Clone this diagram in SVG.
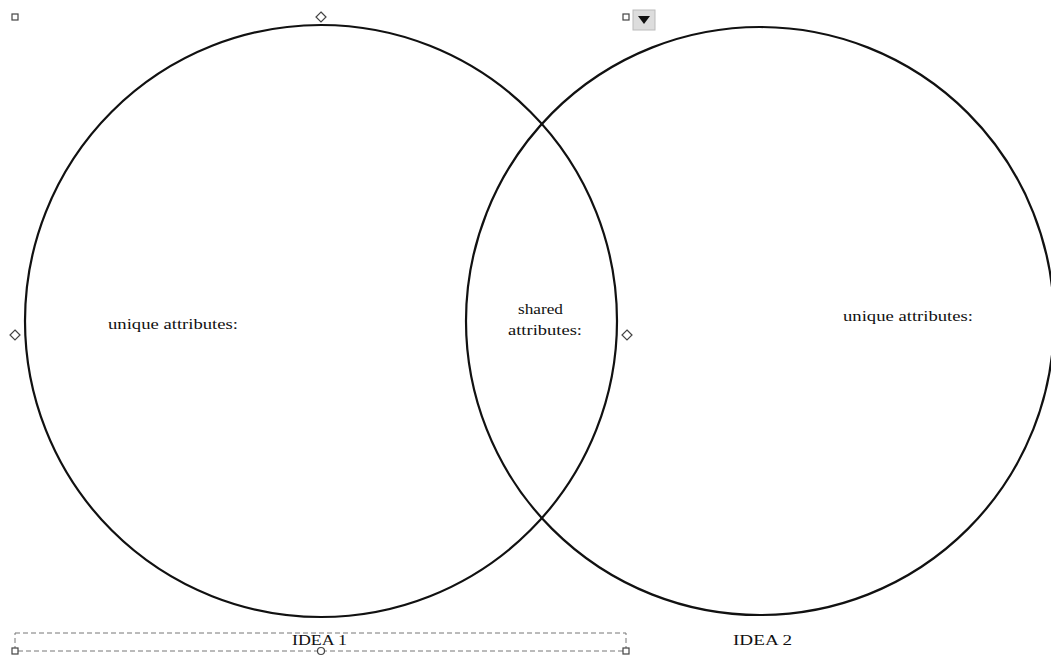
<svg xmlns="http://www.w3.org/2000/svg" width="1051" height="657" viewBox="0 0 1051 657">
<style>
.c{fill:none;stroke:#111;stroke-width:2.2}
.t{font-family:"Liberation Serif",serif;font-size:15px;fill:#111}
.h{fill:#fff;stroke:#444;stroke-width:1.2}
.d{fill:none;stroke:#777;stroke-width:1;stroke-dasharray:5,3}
</style>
<rect width="1051" height="657" fill="#fff"/>
<g id="circle1"><circle class="c" cx="321" cy="321" r="296"/><text class="t" x="108" y="329" textLength="130" lengthAdjust="spacingAndGlyphs">unique attributes:</text></g>
<g id="circle2"><circle class="c" cx="760" cy="321" r="294"/><text class="t" x="843" y="321" textLength="130" lengthAdjust="spacingAndGlyphs">unique attributes:</text></g>
<g id="shared"><text class="t" x="518" y="314" textLength="45" lengthAdjust="spacingAndGlyphs">shared</text><text class="t" x="508" y="335" textLength="74" lengthAdjust="spacingAndGlyphs">attributes:</text></g>
<g id="label1"><rect class="d" x="15" y="633" width="611" height="18"/><text class="t" x="292" y="645" textLength="55" lengthAdjust="spacingAndGlyphs">IDEA 1</text></g>
<g id="label2"><text class="t" x="733" y="645" textLength="59" lengthAdjust="spacingAndGlyphs">IDEA 2</text></g>
<g id="handles">
<rect class="h" x="12" y="14" width="6" height="6"/>
<rect class="h" x="623" y="14" width="6" height="6"/>
<path class="h" d="M321,12 L326,17 L321,22 L316,17 Z"/>
<path class="h" d="M15,330 L20,335 L15,340 L10,335 Z"/>
<path class="h" d="M627,330 L632,335 L627,340 L622,335 Z"/>
<rect class="h" x="12" y="648" width="6" height="6"/>
<rect class="h" x="623" y="648" width="6" height="6"/>
<circle class="h" cx="321" cy="651" r="3.5"/>
<rect x="633" y="10" width="22" height="20" fill="#ddd" stroke="#bbb"/>
<path d="M638,16 L650,16 L644,24 Z" fill="#111"/>
</g>
<g id="connectors"></g>
</svg>
